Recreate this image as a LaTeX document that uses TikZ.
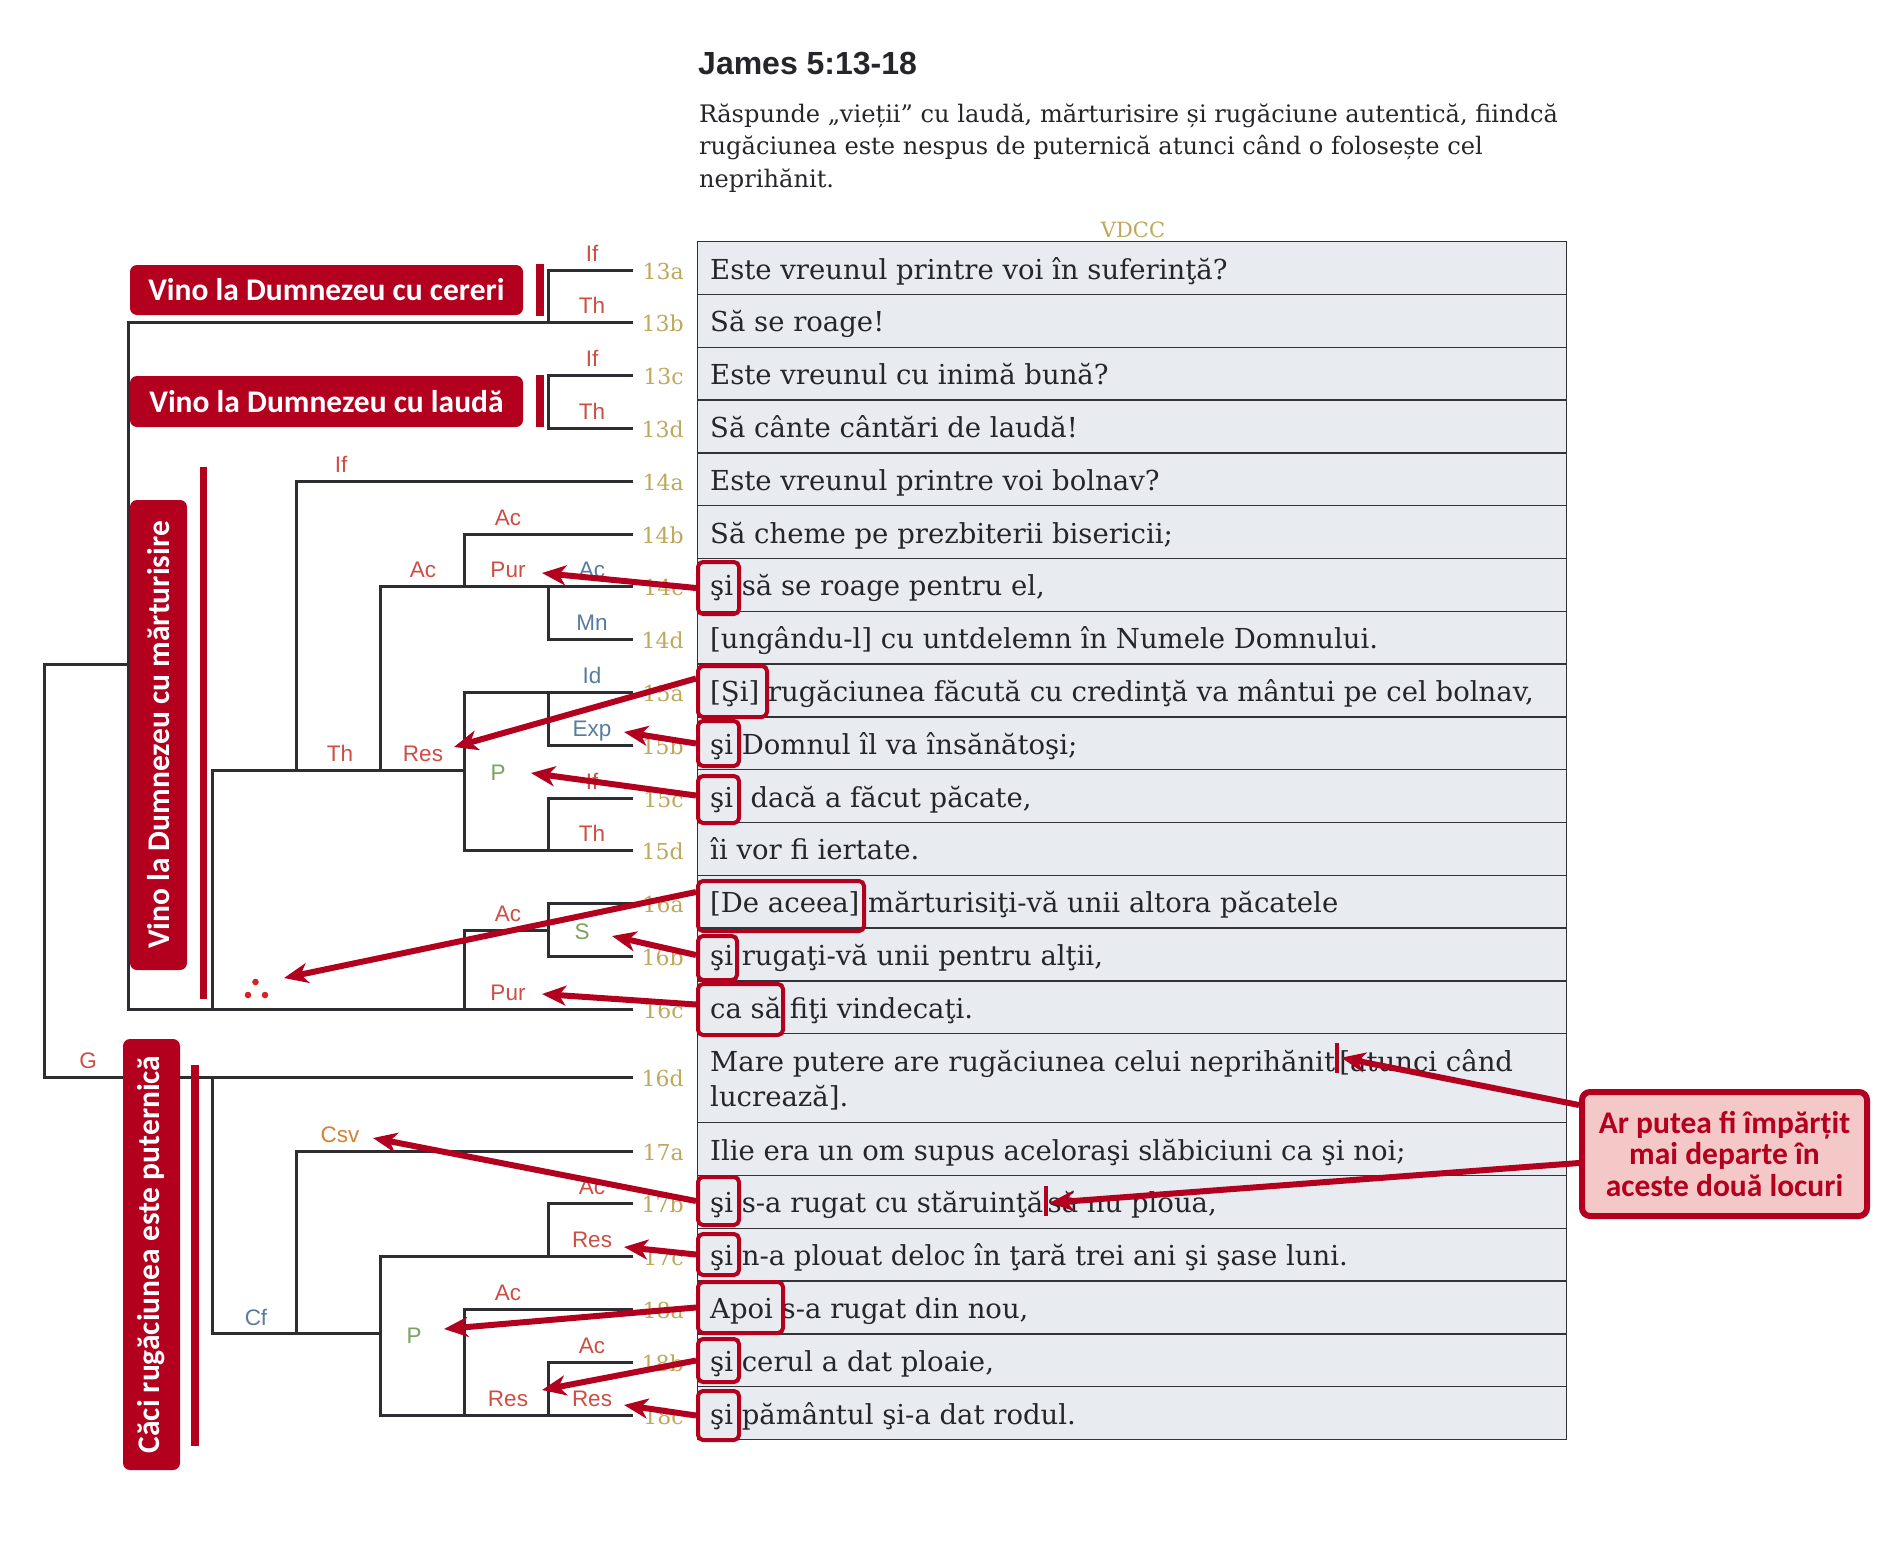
\documentclass[tikz,border=0pt]{standalone}
\usepackage{fontspec}
\setmainfont{DejaVu Serif}
\newfontfamily\lsans{Liberation Sans}
\newfontfamily\carl{Carlito}
\usetikzlibrary{arrows.meta}
\definecolor{crim}{RGB}{178,0,30}
\definecolor{treec}{RGB}{45,45,50}
\definecolor{rowf}{RGB}{232,236,240}
\definecolor{tabl}{RGB}{50,50,55}
\definecolor{gold}{RGB}{190,168,92}
\definecolor{lred}{RGB}{205,78,68}
\definecolor{lblue}{RGB}{88,124,158}
\definecolor{lgreen}{RGB}{122,163,94}
\definecolor{lorange}{RGB}{214,128,52}
\definecolor{pinkf}{RGB}{245,200,200}
\definecolor{txt}{RGB}{38,38,42}
\definecolor{dotred}{RGB}{215,35,40}
\newcommand\myrow[4]{%
  \node[rowbox, minimum height=52.8pt] (r#1) at (697,#2) {};
  \node[rowtext] (t#1) at (710,#2+38) {#4};
  \node[vlab] (v#1) at (684,#2+38) {#3};
  \coordinate (L#1) at (633,#2+29);
}
\newcommand\hlb[5]{\node[hlbox, minimum width=#4pt, minimum height=#5pt] (#1) at (#2,#3) {};}
\begin{document}
\begin{tikzpicture}[x=1pt,y=-1pt,
  treeln/.style={draw=treec, line width=3pt},
  rowbox/.style={draw=tabl, line width=1.4pt, fill=rowf, minimum width=869pt, inner sep=0pt, anchor=north west},
  rowtext/.style={font=\fontsize{27.5}{33}\selectfont, text=txt, inner sep=0pt, anchor=base west},
  vlab/.style={font=\fontsize{22}{26}\selectfont, text=gold, inner sep=0pt, anchor=base east},
  lab/.style={font=\lsans\fontsize{22.5}{26}\selectfont, inner sep=0pt, anchor=base},
  redlab/.style={lab, text=lred},
  bluelab/.style={lab, text=lblue},
  greenlab/.style={lab, text=lgreen},
  orangelab/.style={lab, text=lorange},
  titlebox/.style={fill=crim, rounded corners=7pt, text=white, font=\carl\bfseries\fontsize{31.5}{36}\selectfont, inner sep=0pt},
  hlbox/.style={draw=crim, line width=4pt, rounded corners=5pt, inner sep=0pt, anchor=north west},
  redarrow/.style={draw=crim, line width=6pt, -{Stealth[length=24pt,width=20pt,inset=7pt]}},
  curmark/.style={fill=crim, minimum width=4pt, minimum height=30pt, inner sep=0pt, anchor=south west},
]
\useasboundingbox (0,0) rectangle (1882,1544);
\fill[white] (0,0) rectangle (1882,1544);

% header
\node[anchor=base west, inner sep=0pt, font=\lsans\bfseries\fontsize{32}{38}\selectfont, text=txt] (title) at (698,74.3) {James 5:13-18};
\node[anchor=base west, inner sep=0pt, font=\fontsize{24.1}{33}\selectfont, text=txt] (para1) at (699,122.3) {Răspunde „vieții” cu laudă, mărturisire și rugăciune autentică, fiindcă};
\node[anchor=base west, inner sep=0pt, font=\fontsize{24.1}{33}\selectfont, text=txt] (para2) at (699,155) {rugăciunea este nespus de puternică atunci când o folosește cel};
\node[anchor=base west, inner sep=0pt, font=\fontsize{24.1}{33}\selectfont, text=txt] (para3) at (699,187.7) {neprihănit.};
\node[anchor=base, inner sep=0pt, font=\fontsize{21}{25}\selectfont, text=gold] (vdcc) at (1133,237) {VDCC};

% table rows
\myrow{13a}{241}{13a}{Este vreunul printre voi în suferinţă?}
\myrow{13b}{293.8}{13b}{Să se roage!}
\myrow{13c}{346.6}{13c}{Este vreunul cu inimă bună?}
\myrow{13d}{399.4}{13d}{Să cânte cântări de laudă!}
\myrow{14a}{452.2}{14a}{Este vreunul printre voi bolnav?}
\myrow{14b}{505}{14b}{Să cheme pe prezbiterii bisericii;}
\myrow{14c}{557.8}{14c}{şi să se roage pentru el,}
\myrow{14d}{610.6}{14d}{[ungându-l] cu untdelemn în Numele Domnului.}
\myrow{15a}{663.4}{15a}{[Şi] rugăciunea făcută cu credinţă va mântui pe cel bolnav,}
\myrow{15b}{716.2}{15b}{şi Domnul îl va însănătoşi;}
\myrow{15c}{769}{15c}{şi~ dacă a făcut păcate,}
\myrow{15d}{821.8}{15d}{îi vor fi iertate.}
\myrow{16a}{874.6}{16a}{[De aceea] mărturisiţi-vă unii altora păcatele}
\myrow{16b}{927.4}{16b}{şi rugaţi-vă unii pentru alţii,}
\myrow{16c}{980.2}{16c}{ca să fiţi vindecaţi.}
% 16d (two lines, with split mark)
\node[rowbox, minimum height=89pt] (r16d) at (697,1033) {};
\node[rowtext] (t16d) at (710,1071.7) {Mare putere are rugăciunea celui neprihănit};
\node[curmark] (cur1) at ([yshift=-1pt]t16d.base east) {};
\node[rowtext] (t16dx) at ([xshift=4pt]t16d.base east) {[atunci când};
\node[rowtext] (t16db) at (710,1106.7) {lucrează].};
\node[vlab] (v16d) at (684,1086) {16d};
\coordinate (L16d) at (633,1077);
\myrow{17a}{1122}{17a}{Ilie era un om supus aceloraşi slăbiciuni ca şi noi;}
% 17b (with split mark)
\node[rowbox, minimum height=52.8pt] (r17b) at (697,1174.8) {};
\node[rowtext] (t17b) at (710,1212.8) {şi s-a rugat cu stăruinţă};
\node[curmark] (cur2) at ([yshift=-3pt]t17b.base east) {};
\node[rowtext] (t17bx) at ([xshift=4pt]t17b.base east) {să nu ploua,};
\node[vlab] (v17b) at (684,1212.8) {17b};
\coordinate (L17b) at (633,1203.8);
\myrow{17c}{1227.6}{17c}{şi n-a plouat deloc în ţară trei ani şi şase luni.}
\myrow{18a}{1280.4}{18a}{Apoi s-a rugat din nou,}
\myrow{18b}{1333.2}{18b}{şi cerul a dat ploaie,}
\myrow{18c}{1386}{18c}{şi pământul şi-a dat rodul.}

% tree levels and junctions
\coordinate (c0) at (44,0);
\coordinate (c1) at (128,0);
\coordinate (c2) at (212,0);
\coordinate (c3) at (296,0);
\coordinate (c4) at (380,0);
\coordinate (c5) at (464,0);
\coordinate (c6) at (548,0);
\coordinate (j1) at (0,664);
\coordinate (j2) at (0,770);
\coordinate (j3) at (0,930);
\coordinate (j4) at (0,1333);

\draw[treeln] (L13a) -| (c6 |- L13b);
\draw[treeln] (L13b) -- (c1 |- L13b) -- (c1 |- L16c) -- (L16c);
\draw[treeln] (L13c) -| (c6 |- L13d) -- (L13d);
\draw[treeln] (c1 |- j1) -- (c0 |- j1) |- (L16d);
\draw[treeln] (L14a) -| (c3 |- j2);
\draw[treeln] (c2 |- L16c) |- (c5 |- j2);
\draw[treeln] (L14c) -| (c4 |- j2);
\draw[treeln] (L14b) -| (c5 |- L14c);
\draw[treeln] (c6 |- L14c) |- (L14d);
\draw[treeln] (L15a) -| (c5 |- L15d) -- (L15d);
\draw[treeln] (c6 |- L15a) |- (L15b);
\draw[treeln] (L15c) -| (c6 |- L15d);
\draw[treeln] (L16a) -| (c6 |- L16b) -- (L16b);
\draw[treeln] (c6 |- j3) -| (c5 |- L16c);
\draw[treeln] (c2 |- L16d) |- (c4 |- j4);
\draw[treeln] (L17a) -| (c3 |- j4);
\draw[treeln] (L17b) -| (c6 |- L17c);
\draw[treeln] (L17c) -| (c4 |- L18c) -- (L18c);
\draw[treeln] (L18a) -| (c5 |- L18c);
\draw[treeln] (L18b) -| (c6 |- L18c);

% relation labels
\node[redlab] (lb1) at (592,261) {If};
\node[redlab] (lb2) at (592,313.8) {Th};
\node[redlab] (lb3) at (592,366.6) {If};
\node[redlab] (lb4) at (592,419.4) {Th};
\node[redlab] (lb5) at (341,472.2) {If};
\node[redlab] (lb6) at (508,525) {Ac};
\node[redlab] (lb7) at (423,577.8) {Ac};
\node[redlab] (lb8) at (508,577.8) {Pur};
\node[bluelab] (lb9) at (592,577.8) {Ac};
\node[bluelab] (lb10) at (592,630.6) {Mn};
\node[bluelab] (lb11) at (592,683.4) {Id};
\node[bluelab] (lb12) at (592,736.2) {Exp};
\node[redlab] (lb13) at (592,789) {If};
\node[redlab] (lb14) at (592,841.8) {Th};
\node[redlab] (lb15) at (340,761) {Th};
\node[redlab] (lb16) at (423,761) {Res};
\node[greenlab] (lb17) at (498,780) {P};
\node[redlab] (lb18) at (508,921) {Ac};
\node[greenlab] (lb19) at (582,939) {S};
\node[redlab] (lb20) at (508,1000.2) {Pur};
\node[redlab] (lb21) at (88,1068) {G};
\node[orangelab] (lb22) at (340,1142) {Csv};
\node[bluelab] (lb23) at (256,1325) {Cf};
\node[greenlab] (lb24) at (414,1343) {P};
\node[redlab] (lb25) at (592,1194.8) {Ac};
\node[redlab] (lb26) at (592,1247.6) {Res};
\node[redlab] (lb27) at (508,1300.4) {Ac};
\node[redlab] (lb28) at (592,1353.2) {Ac};
\node[redlab] (lb29) at (508,1406) {Res};
\node[redlab] (lb30) at (592,1406) {Res};
% therefore sign
\fill[dotred] (255.5,982) circle (3.3);
\fill[dotred] (248,995) circle (3.3);
\fill[dotred] (265,995) circle (3.3);

% section boxes and bars
\node[titlebox, minimum width=393pt, minimum height=50pt] (bx1) at (326.5,290) {Vino la Dumnezeu cu cereri};
\node[titlebox, minimum width=393pt, minimum height=51pt] (bx2) at (326.5,401.5) {Vino la Dumnezeu cu laudă};
\node[titlebox, minimum width=470pt, minimum height=57pt, rotate=90] (bx3) at (158.5,735) {Vino la Dumnezeu cu mărturisire};
\node[titlebox, minimum width=431pt, minimum height=57pt, rotate=90] (bx4) at (151.5,1254.5) {Căci rugăciunea este puternică};
\fill[crim] (536,264) rectangle (544,316);
\fill[crim] (536,375) rectangle (544,427);
\fill[crim] (200,467) rectangle (207,999);
\fill[crim] (191,1065) rectangle (199,1446);

% highlighted words
\hlb{h14c}{696}{560}{41}{52}
\hlb{h15a}{696}{664}{69}{51}
\hlb{h15b}{696}{719}{41}{45}
\hlb{h15c}{696}{774}{41}{47}
\hlb{h16a}{696}{879}{166}{50}
\hlb{h16b}{696}{934}{39}{44}
\hlb{h16c}{696}{982}{85}{51}
\hlb{h17b}{696}{1175}{41}{48}
\hlb{h17c}{696}{1232}{41}{41}
\hlb{h18a}{696}{1280}{85}{51}
\hlb{h18b}{696}{1337}{41}{43}
\hlb{h18c}{696}{1389}{41}{49}

% arrow targets
\coordinate (tip1) at (542,573);
\coordinate (tip2) at (454,747);
\coordinate (tip3) at (624,732);
\coordinate (tip4) at (531,773);
\coordinate (tip5) at (284,978);
\coordinate (tip6) at (612,936);
\coordinate (tip7) at (542,994);
\coordinate (tip8) at (373,1138);
\coordinate (tip9) at (624,1247);
\coordinate (tip10) at (444,1329);
\coordinate (tip11) at (542,1390);
\coordinate (tip12) at (624,1405);
\coordinate (tipA) at ([xshift=6pt,yshift=14pt]t16d.base east);
\coordinate (tipB) at ([xshift=6pt,yshift=10pt]t17b.base east);

\draw[redarrow] (h14c.west) -- (tip1);
\draw[redarrow] ([yshift=13pt]h15a.west) -- (tip2);
\draw[redarrow] (h15b.west) -- (tip3);
\draw[redarrow] ([yshift=4pt]h15c.west) -- (tip4);
\draw[redarrow] ([yshift=14pt]h16a.west) -- (tip5);
\draw[redarrow] ([yshift=3pt]h16b.west) -- (tip6);
\draw[redarrow] ([yshift=5pt]h16c.west) -- (tip7);
\draw[redarrow] (h17b.west) -- (tip8);
\draw[redarrow] (h17c.west) -- (tip9);
\draw[redarrow] (h18a.west) -- (tip10);
\draw[redarrow] (h18b.west) -- (tip11);
\draw[redarrow] (h18c.west) -- (tip12);

% callout
\node[draw=crim, line width=6pt, fill=pinkf, rounded corners=8pt, minimum width=285pt, minimum height=124pt, inner sep=0pt, align=center, text=crim, font=\carl\bfseries\fontsize{31.5}{31.3}\selectfont] (callout) at (1724.5,1154) {Ar putea fi împărțit\\mai departe în\\aceste două locuri};
\draw[redarrow] ([yshift=49pt]callout.west) -- (tipA);
\draw[redarrow] ([yshift=-9pt]callout.west) -- (tipB);
\end{tikzpicture}
\end{document}
